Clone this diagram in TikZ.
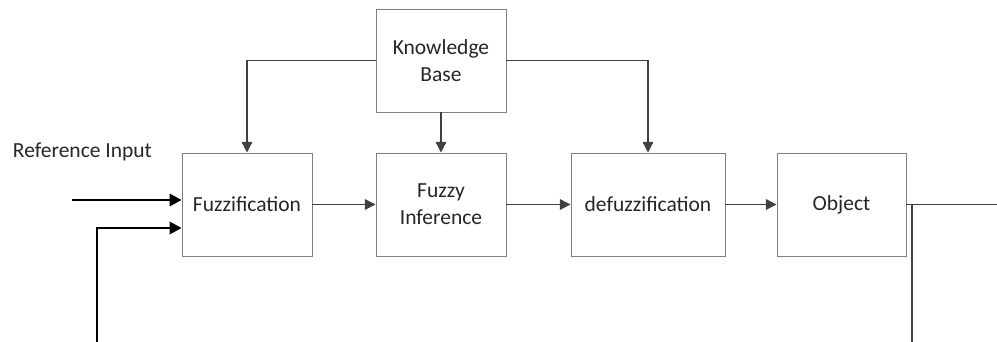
\documentclass[tikz,border=0pt]{standalone}
\usepackage{fontspec}
\setmainfont{Carlito}
\usetikzlibrary{arrows.meta,positioning}

\begin{document}
\begin{tikzpicture}[
    box/.style={draw=black!50, line width=0.7pt, minimum width=3.25cm, minimum height=2.575cm,
        align=center, font=\fontsize{15.3}{19}\selectfont, text=black!85},
    flow/.style={-{Triangle[length=7.5pt,width=7.5pt]}, draw=black!75, line width=0.9pt},
    feed/.style={-{Triangle[length=8.5pt,width=9pt]}, line width=1.1pt},
    wire/.style={draw=black!75, line width=0.9pt},
    lab/.style={font=\fontsize{15.3}{19}\selectfont, text=black!85}
]
\useasboundingbox (0,0) rectangle (24.925,8.55);
% ---------------- blocks ----------------
\node[box] (kb)    at (11.025,7.0375) {Knowledge\\Base};
\node[box] (fuzz)  at (6.175,3.4375)  {Fuzzification};
\node[box] (inf)   at (11.025,3.4375) {Fuzzy\\Inference};
\node[box, minimum width=3.85cm] (defuzz) at (16.2,3.4375) {defuzzification};
\node[box, minimum width=3.225cm] (obj)   at (21.0375,3.4375) {Object};
\node[lab, anchor=west] (refin) at (0.2,4.75) {Reference Input};
% ---------------- knowledge base to the blocks ----------------
\draw[flow] (kb.west |- 0,7.0375) -| (fuzz.north);
\draw[flow] (kb.south) -- (inf.north);
\draw[flow] (kb.east) -| (defuzz.north);
% ---------------- main chain ----------------
\draw[flow] (fuzz) -- (inf);
\draw[flow] (inf) -- (defuzz);
\draw[flow] (defuzz) -- (obj);
% ---------------- inputs and feedback ----------------
\coordinate (in1) at (1.8,3.55);
\coordinate (in2) at (2.425,0);
\coordinate (out) at (24.925,3.4375);
\coordinate (tap) at (22.8,3.4375);
\coordinate (tapend) at (22.8,0);
\draw[feed] (in1) -- (in1 -| fuzz.west);
\draw[feed] (in2) |- (fuzz.west |- 0,2.85);
\draw[wire] (obj.east) -- (out);
\draw[wire] (tap) -- (tapend);
\end{tikzpicture}
\end{document}
